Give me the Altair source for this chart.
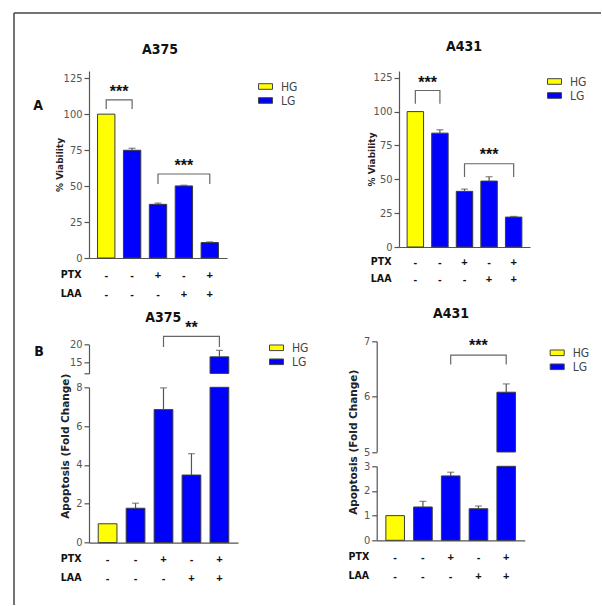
import altair as alt
import pandas as pd

# ---------------- data ----------------
conditions = [0, 1, 2, 3, 4]
groups = ["HG", "LG", "LG", "LG", "LG"]
ptx_signs = ["-", "-", "+", "-", "+"]
laa_signs = ["-", "-", "-", "+", "+"]

a375_viability = [100.0, 74.9, 37.3, 50.1, 10.7]
a375_viability_err = [0.0, 1.4, 0.9, 0.5, 0.5]
a431_viability = [100.0, 84.1, 41.1, 48.7, 22.1]
a431_viability_err = [0.0, 2.5, 1.7, 3.2, 0.5]
a375_apoptosis = [0.97, 1.77, 6.85, 3.48, 16.6]
a375_apoptosis_err = [0.0, 0.26, 1.12, 1.10, 1.8]
a431_apoptosis = [1.0, 1.35, 2.61, 1.28, 6.08]
a431_apoptosis_err = [0.0, 0.23, 0.15, 0.11, 0.15]

viability_ticks = [0, 25, 50, 75, 100, 125]
a375_apo_upper_ticks = [12, 15, 20]
a375_apo_lower_ticks = [0, 2, 4, 6, 8]
a431_apo_upper_ticks = [5, 6, 7]
a431_apo_lower_ticks = [0, 1, 2, 3]

# significance brackets: (from bar, to bar, leg end, bracket top, stars, stars level)
a375_via_brackets = [(0, 1, 103.6, 109.9, "***", 117.5), (2, 4, 51.5, 58.4, "***", 66.3)]
a431_via_brackets = [(0, 1, 105.8, 115.6, "***", 123.0), (2, 4, 51.7, 61.5, "***", 69.9)]
a375_apo_brackets = [(2, 4, 19.3, 22.3, "**", 25.4)]
a431_apo_brackets = [(2, 4, 6.58, 6.75, "***", 6.97)]

# ---------------- style ----------------
NARROW = "Liberation Sans Narrow, Arial Narrow, DejaVu Sans Condensed, Liberation Sans, sans-serif"
SANS = "Liberation Sans, Arial, sans-serif"
WIDE = "DejaVu Sans, Liberation Sans, sans-serif"
GRAY = "#555555"
PI, PO = 0.33, 0.33
BAR_COLORS = ["#FFFF00", "#0000FF"]
SYMBOL = "M-1,-0.4L1,-0.4L1,0.4L-1,0.4Z"

label_expr = "[" + ",".join(f"['{p}','{l}']" for p, l in zip(ptx_signs, laa_signs)) + "][datum.value]"
one = pd.DataFrame({"a": [0]})


def make_df(vals, errs):
    return pd.DataFrame({
        "cond": conditions, "group": groups, "value": vals, "err": errs,
        "top": [v + e for v, e in zip(vals, errs)],
    })


def make_x(x_pad, x_lh, xrange=None):
    axis = alt.Axis(
        title=["PTX", "LAA"], labelExpr=label_expr, labelAngle=0, ticks=False, tickSize=0,
        labelPadding=x_pad, labelBaseline="top", labelLineHeight=x_lh, labelFontSize=11,
        labelFontWeight="bold", labelColor="#111", labelFont=SANS,
        titleAngle=0, titleAlign="right", titleBaseline="top",
        titleX=(xrange[0] if xrange else 0) - 8, titleY=x_pad,
        titleLineHeight=x_lh, titleFontSize=10.5, titleFontWeight="bold", titleFont=NARROW,
        titleColor="#111", domainColor=GRAY, domainWidth=1.2)
    sc = dict(paddingInner=PI, paddingOuter=PO)
    if xrange:
        sc["range"] = list(xrange)

    def X(**kw):
        return alt.X("cond:O", scale=alt.Scale(**sc), axis=axis, **kw)
    return X


def make_legend(pos):
    return alt.Legend(orient="none", legendX=pos[0], legendY=pos[1], title=None,
                      symbolType=SYMBOL, symbolSize=196, symbolStrokeColor="#444",
                      symbolStrokeWidth=1, labelFont=NARROW, labelFontSize=12,
                      labelColor="#444", labelOffset=8, rowPadding=0, padding=0)


def segment(df, X, step, domain, ticks, yrange=None, kind="full", brackets=(), legend=None,
            ytitle=None, ytitle_x=-30, ytitle_y=0, ytitle_size=9, hide_tick=None, axis_offset=0,
            zindex=0):
    lo, hi = domain
    ykw = dict(orient="left", offset=axis_offset, values=ticks, grid=False, tickSize=5,
               tickColor=GRAY, tickWidth=1.2, domainColor=GRAY, domainWidth=1.2,
               labelColor="#555", labelFont=NARROW, labelFontSize=11, labelPadding=2,
               labelOverlap=False, zindex=zindex)
    if hide_tick is not None:
        ykw["labelExpr"] = f"datum.value == {hide_tick} ? '' : format(datum.value, 'd')"
    else:
        ykw["labelExpr"] = "format(datum.value, 'd')"
    if ytitle:
        ykw.update(title=ytitle, titleX=ytitle_x, titleY=ytitle_y, titleAngle=-90,
                   titleAlign="center", titleBaseline="middle", titleFont=WIDE,
                   titleFontSize=ytitle_size, titleFontWeight="bold", titleColor="#222")
    else:
        ykw["title"] = None
    yaxis = alt.Axis(**ykw)
    sc = dict(domain=list(domain), nice=False, zero=False)
    if yrange:
        sc["range"] = list(yrange)
    if kind == "lower":
        sc["clamp"] = True
    yscale = alt.Scale(**sc)

    def Y(field):
        return alt.Y(field, type="quantitative", scale=yscale, axis=yaxis)

    base = alt.Chart(df)
    if kind == "upper":
        bar_src = base.transform_filter(f"datum.value > {lo}")
        baseline = lo
        err_src = base.transform_filter(f"datum.err > 0 && datum.value >= {lo}")
    elif kind == "lower":
        bar_src = base
        baseline = 0
        err_src = base.transform_filter(f"datum.err > 0 && datum.top <= {hi}")
    else:
        bar_src = base
        baseline = 0
        err_src = base.transform_filter("datum.err > 0")

    layers = [
        bar_src.mark_bar(stroke="#3c3c3c", strokeWidth=1).encode(
            x=X(), y=Y("value"), y2=alt.datum(baseline),
            color=alt.Color("group:N", scale=alt.Scale(domain=["HG", "LG"], range=BAR_COLORS),
                            legend=legend)),
        err_src.mark_rule(color=GRAY, strokeWidth=1.2).encode(
            x=X(), y=Y("value"), y2=alt.Y2("top")),
        err_src.mark_tick(color=GRAY, thickness=1.2, size=7).encode(x=X(), y=Y("top")),
    ]
    if brackets:
        rows = []
        for bid, (a, b, low, top, stars, sy) in enumerate(brackets):
            for k, (c, v) in enumerate([(a, low), (a, top), (b, top), (b, low)]):
                rows.append({"bid": bid, "ord": k, "cond": c, "yv": v})
        layers.append(alt.Chart(pd.DataFrame(rows)).mark_line(color="#666", strokeWidth=1.2).encode(
            x=X(), y=Y("yv"), detail="bid:N", order="ord:Q"))
        even = [{"cond": (a + b) // 2, "sy": sy, "stars": s} for a, b, _, _, s, sy in brackets if (a + b) % 2 == 0]
        odd = [{"cond": a, "sy": sy, "stars": s} for a, b, _, _, s, sy in brackets if (a + b) % 2 == 1]
        star_style = dict(font=SANS, fontSize=16, fontWeight="bold", color="#111",
                          baseline="alphabetic", dy=8)
        if even:
            layers.append(alt.Chart(pd.DataFrame(even)).mark_text(**star_style).encode(
                x=X(), y=Y("sy"), text="stars:N"))
        if odd:
            layers.append(alt.Chart(pd.DataFrame(odd)).mark_text(dx=PI * step / 2, **star_style).encode(
                x=X(bandPosition=1), y=Y("sy"), text="stars:N"))
    return alt.layer(*layers)


def panel_title(text, cx, cy):
    # panel heading, placed relative to the panel's plot origin
    return alt.Chart(one).mark_text(text=text, font=NARROW, fontSize=14, fontWeight="bold",
                                    color="#111", baseline="middle", align="center").encode(
        x=alt.value(cx), y=alt.value(cy))


def step_of(plot_width):
    return plot_width / (len(conditions) - PI + 2 * PO)


# decorative frame and panel letters (drawn relative to the first panel's origin)
frame_top = alt.Chart(one).mark_rule(color="#444", strokeWidth=1.5).encode(
    x=alt.value(-75), x2=alt.value(512), y=alt.value(-58))
frame_left = alt.Chart(one).mark_rule(color="#444", strokeWidth=1.5).encode(
    x=alt.value(-75), y=alt.value(-58), y2=alt.value(534))
letter_a = alt.Chart(one).mark_text(text="A", font=NARROW, fontSize=14, fontWeight="bold",
                                    color="#111", baseline="middle").encode(
    x=alt.value(-51), y=alt.value(35))
letter_b = alt.Chart(one).mark_text(text="B", font=NARROW, fontSize=14, fontWeight="bold",
                                    color="#111", baseline="middle").encode(
    x=alt.value(-50), y=alt.value(281))

# ---- A: viability, A375 ----
X1 = make_x(11, 19)
p_a375 = alt.layer(
    segment(make_df(a375_viability, a375_viability_err), X1, step_of(138), [0, 130], viability_ticks,
            brackets=a375_via_brackets, legend=make_legend((169, 8)),
            ytitle="% Viability", ytitle_x=-30, ytitle_y=187 / 2),
    panel_title("A375", 71, -21.5),
    frame_top, frame_left, letter_a, letter_b,
).properties(width=138, height=187)

# ---- A: viability, A431 (plot shifted right inside its cell) ----
SH = 22.3
X2 = make_x(9.5, 17, (SH, SH + 131))
p_a431 = alt.layer(
    segment(make_df(a431_viability, a431_viability_err), X2, step_of(131), [0, 130], viability_ticks,
            brackets=a431_via_brackets, legend=make_legend((SH + 148, 3)),
            ytitle="% Viability", ytitle_x=-28, ytitle_y=176 / 2, axis_offset=-SH),
    panel_title("A431", 87.3, -24),
).properties(width=SH + 131, height=176)

# ---- B: apoptosis, A375 (broken axis) ----
df_b375 = make_df(a375_apoptosis, a375_apoptosis_err)
X3 = make_x(11, 19.4)
leg3 = make_legend((180, -1))
p_b375 = alt.layer(
    segment(df_b375, X3, step_of(149), [12, 20], a375_apo_upper_ticks, yrange=(32.1, 3.3),
            kind="upper", brackets=a375_apo_brackets, legend=leg3, hide_tick=12, zindex=1),
    segment(df_b375, X3, step_of(149), [0, 8], a375_apo_lower_ticks, yrange=(201.3, 46),
            kind="lower", legend=leg3, ytitle="Apoptosis (Fold Change)", ytitle_x=-24,
            ytitle_y=104.5, ytitle_size=10.5),
    panel_title("A375", 74.3, -23.5),
).resolve_scale(y="independent").properties(width=149, height=201.3)

# ---- B: apoptosis, A431 (broken axis) ----
df_b431 = make_df(a431_apoptosis, a431_apoptosis_err)
X4 = make_x(11.5, 19)
leg4 = make_legend((173, 4))
p_b431 = alt.layer(
    segment(df_b431, X4, step_of(148), [5, 7], a431_apo_upper_ticks, yrange=(110.7, 0),
            kind="upper", brackets=a431_apo_brackets, legend=leg4, zindex=1),
    segment(df_b431, X4, step_of(148), [0, 3], a431_apo_lower_ticks, yrange=(199, 125),
            kind="lower", legend=leg4, ytitle="Apoptosis (Fold Change)", ytitle_x=-23,
            ytitle_y=100.5, ytitle_size=10.5),
    panel_title("A431", 74.3, -27),
).resolve_scale(y="independent").properties(width=148, height=199)

chart = alt.concat(
    p_a375, p_a431, p_b375, p_b431,
    columns=2, align="each", bounds="flush",
    spacing=alt.RowColnumber(row=83.3, column=138.7),
).resolve_scale(color="independent").resolve_legend(color="independent").properties(
    padding={"left": 13, "top": 12, "right": 0, "bottom": 0},
    background="white",
).configure_view(strokeWidth=0)

chart.save("out.html", embed_options={"renderer": "svg", "actions": False})
